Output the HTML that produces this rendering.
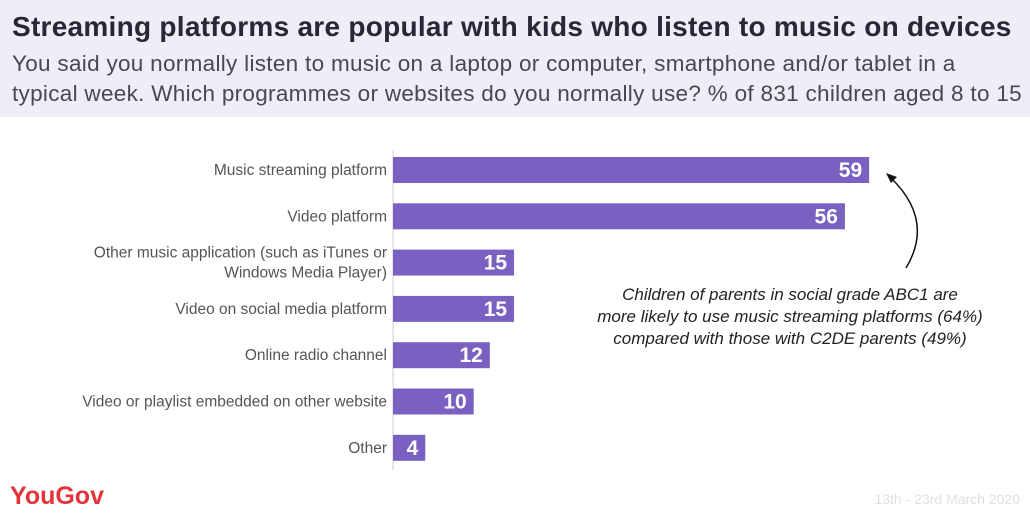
<!DOCTYPE html>
<html><head><meta charset="utf-8"><style>
body{margin:0;width:1030px;height:515px;background:#fff;font-family:"Liberation Sans",sans-serif;overflow:hidden;position:relative}
#hdr{position:absolute;left:0;top:0;width:1030px;height:117px;background:#efedf5}
#t{position:absolute;left:12px;top:11px;font-size:28px;font-weight:bold;color:#2a2638;white-space:nowrap;letter-spacing:0.27px}
#s{position:absolute;left:12px;top:49px;font-size:22.5px;line-height:30px;color:#4a4655;white-space:nowrap;letter-spacing:0.3px}
</style></head><body>
<div id="hdr"></div>
<div id="t">Streaming platforms are popular with kids who listen to music on devices</div>
<div id="s">You said you normally listen to music on a laptop or computer, smartphone and/or tablet in a<br>typical week. Which programmes or websites do you normally use? % of 831 children aged 8 to 15</div>
<svg id="c" width="1030" height="515" style="position:absolute;left:0;top:0">
<line x1="393" y1="150" x2="393" y2="470" stroke="#e6e6e6" stroke-width="2"/>
<g id="bars"></g>
<text x="790" y="300" text-anchor="middle" font-size="17" font-style="italic" fill="#222"><tspan x="790">Children of parents in social grade ABC1 are</tspan><tspan x="790" dy="22">more likely to use music streaming platforms (64%)</tspan><tspan x="790" dy="22">compared with those with C2DE parents (49%)</tspan></text>
<path d="M906 268 Q935 220 890 177" fill="none" stroke="#111" stroke-width="1.5"/>
<path d="M886 173 L897 177 L891 183 Z" fill="#111"/>
<text x="10" y="504" font-size="25" font-weight="bold" fill="#e4343b">YouGov</text>
<text x="1020" y="504" text-anchor="end" font-size="14" fill="#e0e0e0">13th - 23rd March 2020</text>
</svg>
<script>
const categories=[["Music streaming platform"],["Video platform"],["Other music application (such as iTunes or","Windows Media Player)"],["Video on social media platform"],["Online radio channel"],["Video or playlist embedded on other website"],["Other"]];
const values=[59,56,15,15,12,10,4];
const x0=393,scale=8.07,top0=157,step=46.3,bh=26;
const xs=v=>x0+v*scale;
const g=document.getElementById('bars');
const ns='http://www.w3.org/2000/svg';
values.forEach((v,i)=>{
 const y=top0+i*step;
 const r=document.createElementNS(ns,'rect');
 r.setAttribute('x',x0);r.setAttribute('y',y);r.setAttribute('width',xs(v)-x0);r.setAttribute('height',bh);r.setAttribute('fill','#7a61c1');
 
 
 g.appendChild(r);
 const t=document.createElementNS(ns,'text');
 t.setAttribute('x',xs(v)-7);t.setAttribute('y',y+bh/2+7);t.setAttribute('text-anchor','end');t.setAttribute('font-size','21');t.setAttribute('font-weight','bold');t.setAttribute('fill','#fff');
 t.textContent=v;
 
 
 g.appendChild(t);
 const lines=categories[i];
 lines.forEach((s,j)=>{
  const l=document.createElementNS(ns,'text');
  l.setAttribute('x',387);
  l.setAttribute('y',y+bh/2+5+(j-(lines.length-1)/2)*20);
  l.setAttribute('text-anchor','end');l.setAttribute('font-size','15.5');l.setAttribute('fill','#555');
  l.textContent=s;
  
  
  g.appendChild(l);
 });
});
</script>
</body></html>
